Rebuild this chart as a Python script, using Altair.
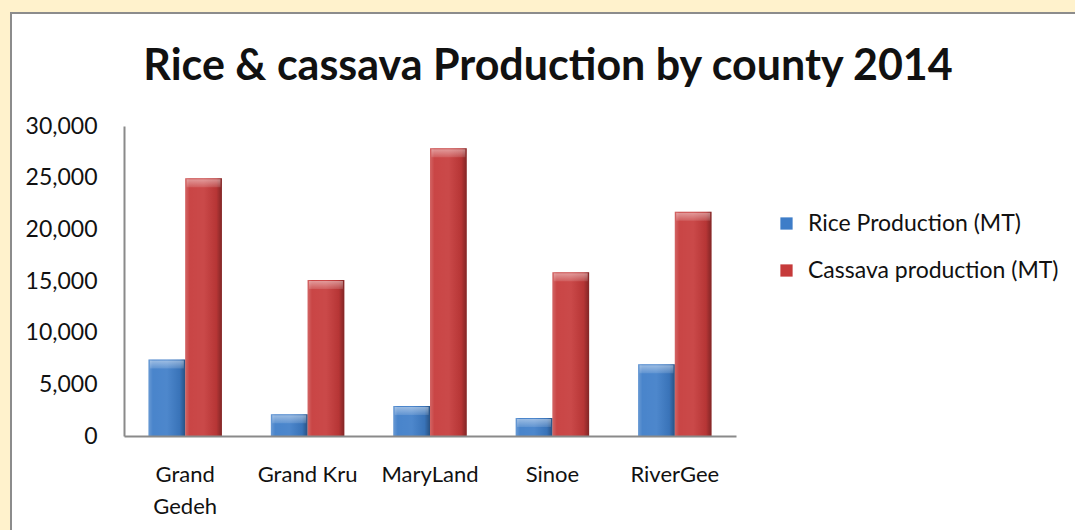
import altair as alt
import pandas as pd

# County production figures, 2014 (metric tonnes)
counties = ["Grand Gedeh", "Grand Kru", "MaryLand", "Sinoe", "RiverGee"]
rice_mt = [7400, 2100, 2900, 1750, 6950]
cassava_mt = [24950, 15100, 27850, 15850, 21700]
series_names = ["Rice Production (MT)", "Cassava production (MT)"]
series_colors = ["#3E7DC8", "#C63A3A"]
y_ticks = [0, 5000, 10000, 15000, 20000, 25000, 30000]

rows = []
for i, c in enumerate(counties):
    rows.append({"county": c, "series": series_names[0], "value": rice_mt[i]})
    rows.append({"county": c, "series": series_names[1], "value": cassava_mt[i]})
df = pd.DataFrame(rows)

FONT = "Lato"
PLOT_W, PLOT_H = 612, 310
PAD = {"left": 124, "top": 126, "right": 1075 - 124 - PLOT_W, "bottom": 530 - 126 - PLOT_H}

x_enc = alt.X(
    "county:N",
    sort=counties,
    title=None,
    scale=alt.Scale(paddingInner=0.4, paddingOuter=0.2),
    axis=alt.Axis(
        labelAngle=0,
        labelFont=FONT,
        labelFontSize=22,
        labelColor="#111111",
        labelPadding=28,
        labelLineHeight=32,
        labelExpr="datum.label == 'Grand Gedeh' ? ['Grand', 'Gedeh'] : datum.label",
        ticks=False,
        domainColor="#8a8a8a",
        domainWidth=2,
        zindex=1,
    ),
)
y_enc = alt.Y(
    "value:Q",
    title=None,
    scale=alt.Scale(domain=[0, 30000], nice=False),
    axis=alt.Axis(
        values=y_ticks,
        format=",d",
        labelFont=FONT,
        labelFontSize=23,
        labelColor="#111111",
        labelPadding=27,
        ticks=False,
        grid=False,
        domainColor="#8a8a8a",
        domainWidth=2,
        zindex=1,
    ),
)
off_enc = alt.XOffset("series:N", sort=series_names, scale=alt.Scale(paddingInner=0))

# White chart panel with grey frame
panel = alt.Chart(alt.Data(values=[{}])).mark_rect(
    fill="white", stroke="#8c8c8c", strokeWidth=2
).encode(
    x=alt.value(11 - PAD["left"]),
    x2=alt.value(1075 - PAD["left"] + 10),
    y=alt.value(13 - PAD["top"]),
    y2=alt.value(530 - PAD["top"] + 10),
)

# Chart heading
heading = alt.Chart(alt.Data(values=[{"t": "Rice & cassava Production by county 2014"}])).mark_text(
    font=FONT,
    fontSize=43,
    fontWeight="bold",
    color="#111111",
    align="center",
    baseline="alphabetic",
).encode(
    text="t:N",
    x=alt.value(548 - PAD["left"]),
    y=alt.value(80 - PAD["top"]),
)

base = alt.Chart(df)

bars = base.mark_bar().encode(
    x=x_enc,
    xOffset=off_enc,
    y=y_enc,
    color=alt.Color(
        "series:N",
        sort=series_names,
        scale=alt.Scale(domain=series_names, range=series_colors),
        legend=alt.Legend(
            title=None,
            orient="none",
            legendX=651,
            legendY=86,
            symbolType="square",
            symbolSize=150,
            symbolStrokeWidth=0,
            labelFont=FONT,
            labelFontSize=23,
            labelColor="#111111",
            labelOffset=10,
            labelLimit=400,
            rowPadding=23,
        ),
    ),
)

# Cylindrical shading across each bar
shade = base.mark_bar(
    fill=alt.Gradient(
        gradient="linear",
        x1=0, y1=0, x2=1, y2=0,
        stops=[
            alt.GradientStop(color="rgba(255,255,255,0.22)", offset=0),
            alt.GradientStop(color="rgba(255,255,255,0.06)", offset=0.12),
            alt.GradientStop(color="rgba(255,255,255,0.08)", offset=0.5),
            alt.GradientStop(color="rgba(0,0,0,0.08)", offset=0.85),
            alt.GradientStop(color="rgba(0,0,0,0.35)", offset=1),
        ],
    )
).encode(x=x_enc, xOffset=off_enc, y=y_enc)

# Light bevel along the top of each bar
bevel = base.mark_tick(
    thickness=8,
    size=34,
    yOffset=5,
    fill=alt.Gradient(
        gradient="linear",
        x1=0, y1=0, x2=0, y2=1,
        stops=[
            alt.GradientStop(color="rgba(255,255,255,0.45)", offset=0),
            alt.GradientStop(color="rgba(255,255,255,0.12)", offset=1),
        ],
    ),
    opacity=1,
).encode(x=x_enc, xOffset=off_enc, y=y_enc)

chart = (
    alt.layer(panel, heading, bars, shade, bevel)
    .properties(
        width=PLOT_W,
        height=PLOT_H,
        autosize=alt.AutoSizeParams(type="none"),
        padding=PAD,
        background="#FFF2CC",
    )
    .configure_view(stroke=None)
)

chart.save("out.html", embed_options={"renderer": "svg", "actions": False})
